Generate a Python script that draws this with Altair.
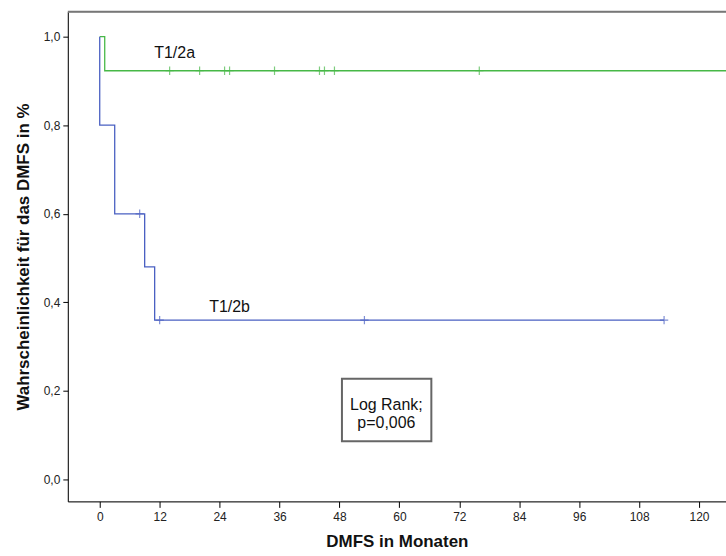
import altair as alt
import pandas as pd

# Kaplan-Meier step data (months, survival)
green_t = [0, 1, 126]
green_s = [1.0, 0.923, 0.923]
blue_t = [0, 0, 3, 9, 11, 113]
blue_s = [1.0, 0.8, 0.6, 0.48, 0.36, 0.36]

# censored observations
green_cens_t = [14, 20, 25, 26, 35, 44, 45, 47, 76]
green_cens_s = [0.923] * 9
blue_cens_t = [8, 12, 53, 113]
blue_cens_s = [0.6, 0.36, 0.36, 0.36]

x_ticks = [0, 12, 24, 36, 48, 60, 72, 84, 96, 108, 120]
y_ticks = [0.0, 0.2, 0.4, 0.6, 0.8, 1.0]

GREEN = "#47b847"
BLUE = "#4a60c2"
FONT = "Liberation Sans"

steps = pd.DataFrame(
    {"t": green_t + blue_t, "s": green_s + blue_s,
     "g": ["T1/2a"] * len(green_t) + ["T1/2b"] * len(blue_t),
     "i": list(range(len(green_t))) + list(range(len(blue_t)))}
)
cens = pd.DataFrame(
    {"t": green_cens_t + blue_cens_t, "s": green_cens_s + blue_cens_s,
     "g": ["T1/2a"] * len(green_cens_t) + ["T1/2b"] * len(blue_cens_t)}
)
labels = pd.DataFrame({"t": [15, 26], "s": [0.962, 0.39], "txt": ["T1/2a", "T1/2b"]})
box = pd.DataFrame({"x": [48.5], "x2": [66.4], "y": [0.2275], "y2": [0.0863]})
boxtext = pd.DataFrame({"t": [57.4, 57.4], "s": [0.169, 0.128], "txt": ["Log Rank;", "p=0,006"]})

xscale = alt.Scale(domain=[-6.39, 125.4], nice=False, zero=False)
yscale = alt.Scale(domain=[-0.0495, 1.0563], nice=False, zero=False)
color = alt.Scale(domain=["T1/2a", "T1/2b"], range=[GREEN, BLUE])

xax = alt.Axis(values=x_ticks, title="DMFS in Monaten", grid=False, domainColor="#000",
               tickColor="#000", tickSize=6, labelFont=FONT,
               labelFontSize=12, labelColor="#222", labelPadding=4,
               titleFont=FONT, titleFontSize=17, titleFontWeight="bold",
               titleColor="#111", titlePadding=11)
yax = alt.Axis(values=y_ticks, title="Wahrscheinlichkeit für das DMFS in %", grid=False,
               domainColor="#000", tickColor="#000", tickSize=5,
               labelExpr="replace(format(datum.value, '.1f'), '.', ',')",
               labelFont=FONT, labelFontSize=12, labelColor="#222",
               labelPadding=3, titleFont=FONT, titleFontSize=17,
               titleFontWeight="bold", titleColor="#111", titlePadding=11)

lines = alt.Chart(steps).mark_line(interpolate="step-after", strokeWidth=1.3, clip=True).encode(
    x=alt.X("t:Q", scale=xscale, axis=xax),
    y=alt.Y("s:Q", scale=yscale, axis=yax),
    color=alt.Color("g:N", scale=color, legend=None),
    order="i:Q",
    detail="g:N",
)
marks = alt.Chart(cens).mark_point(
    shape="M-1,0L1,0M0,-1L0,1", size=70, strokeWidth=1.2, filled=False
).encode(
    x=alt.X("t:Q", scale=xscale),
    y=alt.Y("s:Q", scale=yscale),
    color=alt.Color("g:N", scale=color, legend=None),
)
lab = alt.Chart(labels).mark_text(font=FONT, fontSize=16, color="#111").encode(
    x=alt.X("t:Q", scale=xscale), y=alt.Y("s:Q", scale=yscale), text="txt:N"
)
rect = alt.Chart(box).mark_rect(fill="white", stroke="#666", strokeWidth=2).encode(
    x=alt.X("x:Q", scale=xscale), x2="x2:Q", y=alt.Y("y:Q", scale=yscale), y2="y2:Q"
)
btext = alt.Chart(boxtext).mark_text(font=FONT, fontSize=16, color="#111").encode(
    x=alt.X("t:Q", scale=xscale), y=alt.Y("s:Q", scale=yscale), text="txt:N"
)
topline = alt.Chart(box).mark_rule(color="#777", strokeWidth=2).encode(
    x=alt.value(0), x2=alt.value(660), y=alt.value(0)
)

chart = alt.layer(topline, lines, marks, lab, rect, btext).properties(
    width=660, height=491,
    autosize=alt.AutoSizeParams(type="none"),
    padding={"left": 68, "top": 11, "right": 0, "bottom": 54},
).configure_view(stroke=None).configure(background="white")

chart.save("out.html", embed_options={"renderer": "svg", "actions": False})
